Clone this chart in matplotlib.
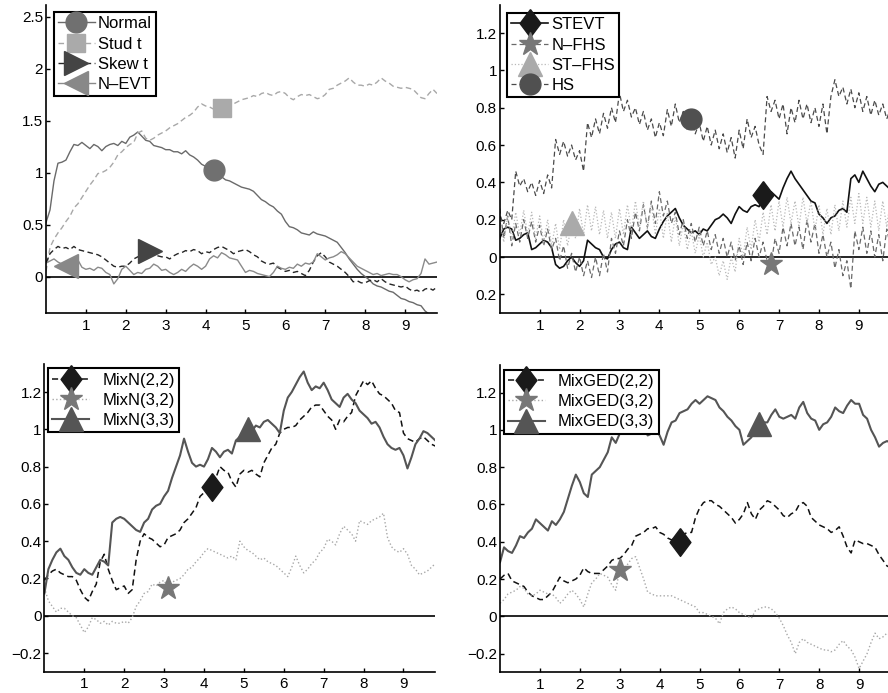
import numpy as np
import matplotlib
matplotlib.use("Agg")
import matplotlib.pyplot as plt

plt.rcParams["font.family"] = ["Liberation Sans", "DejaVu Sans"]

# horizon grid shared by all four panels
t = np.round(np.arange(0, 9.85, 0.1), 1)

# ------------------ panel 1: parametric models ------------------
normal = [0.52, 0.64, 0.92, 1.09, 1.10, 1.12, 1.20, 1.27, 1.26, 1.29,
          1.26, 1.23, 1.27, 1.25, 1.21, 1.25, 1.27, 1.28, 1.26, 1.30,
          1.28, 1.34, 1.36, 1.39, 1.35, 1.31, 1.30, 1.26, 1.25, 1.24,
          1.22, 1.22, 1.20, 1.20, 1.18, 1.21, 1.17, 1.15, 1.12, 1.08,
          1.06, 1.04, 1.02, 0.99, 0.96, 0.93, 0.92, 0.90, 0.88, 0.86,
          0.85, 0.84, 0.82, 0.78, 0.74, 0.72, 0.69, 0.67, 0.63, 0.60,
          0.53, 0.48, 0.47, 0.45, 0.42, 0.41, 0.40, 0.43, 0.41, 0.40,
          0.39, 0.37, 0.35, 0.33, 0.28, 0.23, 0.17, 0.12, 0.07, 0.03,
          0.00, -0.03, -0.07, -0.09, -0.10, -0.12, -0.14, -0.15, -0.18, -0.21,
          -0.22, -0.24, -0.25, -0.27, -0.28, -0.33, -0.36, -0.37, -0.38]
stud_t = [0.05, 0.28, 0.36, 0.42, 0.47, 0.53, 0.58, 0.66, 0.70, 0.76,
          0.82, 0.88, 0.93, 0.99, 1.00, 1.02, 1.05, 1.10, 1.17, 1.20,
          1.24, 1.27, 1.29, 1.38, 1.40, 1.33, 1.31, 1.33, 1.36, 1.38,
          1.40, 1.43, 1.45, 1.47, 1.50, 1.53, 1.55, 1.58, 1.63, 1.66,
          1.64, 1.63, 1.61, 1.62, 1.62, 1.64, 1.67, 1.66, 1.68, 1.70,
          1.71, 1.72, 1.74, 1.73, 1.76, 1.77, 1.75, 1.74, 1.77, 1.78,
          1.76, 1.72, 1.70, 1.73, 1.75, 1.74, 1.75, 1.73, 1.71, 1.72,
          1.75, 1.80, 1.81, 1.84, 1.86, 1.88, 1.91, 1.87, 1.84, 1.84,
          1.83, 1.85, 1.84, 1.87, 1.91, 1.88, 1.86, 1.83, 1.82, 1.81,
          1.82, 1.81, 1.80, 1.76, 1.72, 1.71, 1.76, 1.80, 1.76]
skew_t = [0.13, 0.22, 0.26, 0.29, 0.27, 0.28, 0.26, 0.29, 0.26, 0.25,
          0.24, 0.23, 0.22, 0.21, 0.19, 0.16, 0.13, 0.10, 0.09, 0.10,
          0.10, 0.13, 0.17, 0.19, 0.21, 0.22, 0.25, 0.21, 0.20, 0.19,
          0.19, 0.17, 0.20, 0.22, 0.23, 0.25, 0.24, 0.26, 0.25, 0.22,
          0.24, 0.23, 0.26, 0.28, 0.29, 0.27, 0.25, 0.22, 0.24, 0.25,
          0.26, 0.24, 0.21, 0.19, 0.15, 0.13, 0.12, 0.13, 0.09, 0.07,
          0.05, 0.06, 0.04, 0.05, 0.03, 0.01, 0.06, 0.14, 0.20, 0.23,
          0.19, 0.14, 0.12, 0.10, 0.07, 0.04, 0.00, -0.05, -0.04, -0.06,
          -0.06, -0.04, -0.03, -0.05, -0.02, -0.05, -0.07, -0.08, -0.09, -0.10,
          -0.09, -0.12, -0.14, -0.13, -0.15, -0.12, -0.11, -0.13, -0.10]
n_evt = [0.13, 0.15, 0.17, 0.14, 0.12, 0.10, 0.10, 0.15, 0.16, 0.09,
         0.07, 0.08, 0.06, 0.09, 0.08, 0.04, 0.02, -0.07, -0.02, 0.07,
         0.10, 0.06, 0.02, 0.04, 0.03, 0.07, 0.08, 0.12, 0.10, 0.06,
         0.07, 0.04, 0.02, 0.04, 0.07, 0.05, 0.09, 0.12, 0.10, 0.07,
         0.10, 0.17, 0.20, 0.18, 0.23, 0.21, 0.18, 0.17, 0.16, 0.10,
         0.04, 0.06, 0.05, 0.03, 0.02, 0.01, 0.00, 0.04, 0.10, 0.08,
         0.07, 0.09, 0.08, 0.12, 0.10, 0.13, 0.12, 0.14, 0.22, 0.19,
         0.16, 0.18, 0.19, 0.21, 0.24, 0.22, 0.18, 0.14, 0.10, 0.08,
         0.06, 0.04, 0.02, 0.03, 0.01, 0.02, 0.03, 0.02, 0.02, 0.00,
         -0.03, -0.05, -0.03, -0.02, 0.03, 0.17, 0.12, 0.13, 0.14]

# ------------------ panel 2: EVT / filtered HS ------------------
stevt = [0.10, 0.15, 0.16, 0.15, 0.09, 0.10, 0.12, 0.13, 0.04, 0.05,
         0.07, 0.09, 0.08, 0.05, -0.04, -0.06, -0.05, -0.02, 0.00, -0.03,
         -0.05, -0.02, 0.09, 0.07, 0.05, 0.04, 0.00, -0.01, 0.04, 0.07,
         0.08, 0.05, 0.04, 0.16, 0.13, 0.10, 0.12, 0.14, 0.11, 0.10,
         0.15, 0.19, 0.22, 0.24, 0.26, 0.21, 0.17, 0.15, 0.13, 0.14,
         0.12, 0.15, 0.14, 0.17, 0.20, 0.21, 0.23, 0.21, 0.18, 0.23,
         0.27, 0.25, 0.24, 0.27, 0.28, 0.27, 0.33, 0.32, 0.35, 0.33,
         0.31, 0.37, 0.42, 0.46, 0.42, 0.39, 0.36, 0.33, 0.30, 0.29,
         0.23, 0.21, 0.18, 0.21, 0.22, 0.25, 0.26, 0.24, 0.42, 0.44,
         0.40, 0.46, 0.42, 0.38, 0.35, 0.39, 0.40, 0.38, 0.36]
n_fhs = [0.26, 0.10, 0.22, 0.06, 0.18, 0.08, 0.20, 0.10, 0.19, 0.08,
         0.17, 0.06, 0.15, 0.04, 0.10, -0.02, 0.06, -0.06, 0.02, -0.08,
         0.00, -0.10, -0.02, -0.11, 0.00, -0.10, 0.02, -0.08, 0.10, 0.02,
         0.14, 0.06, 0.20, 0.10, 0.24, 0.14, 0.28, 0.16, 0.30, 0.18,
         0.35, 0.22, 0.30, 0.18, 0.24, 0.12, 0.20, 0.10, 0.18, 0.08,
         0.16, 0.06, 0.14, 0.04, 0.12, 0.02, 0.10, 0.00, 0.08, -0.02,
         0.06, -0.04, 0.08, -0.02, 0.10, 0.00, 0.08, -0.02, -0.04, 0.10,
         0.02, 0.16, 0.06, 0.18, 0.06, 0.16, 0.04, 0.20, 0.08, 0.18,
         0.02, 0.12, 0.00, 0.08, -0.06, 0.04, -0.10, -0.02, -0.17, 0.14,
         0.04, 0.16, 0.02, 0.14, 0.00, 0.12, -0.02, 0.15, 0.05]
st_fhs = [0.20, 0.08, 0.22, 0.10, 0.24, 0.12, 0.25, 0.12, 0.24, 0.10,
          0.22, 0.08, 0.20, 0.06, 0.18, 0.04, 0.20, 0.06, 0.18, 0.10,
          0.26, 0.12, 0.28, 0.14, 0.27, 0.12, 0.25, 0.10, 0.24, 0.10,
          0.26, 0.12, 0.28, 0.14, 0.30, 0.16, 0.30, 0.15, 0.28, 0.12,
          0.26, 0.10, 0.24, 0.08, 0.22, 0.06, 0.18, 0.04, 0.14, 0.02,
          0.12, 0.00, 0.08, -0.04, 0.00, -0.10, -0.02, -0.12, 0.00, -0.08,
          0.10, 0.00, 0.16, 0.04, 0.20, 0.08, 0.24, 0.12, 0.28, 0.14,
          0.30, 0.16, 0.32, 0.18, 0.30, 0.16, 0.32, 0.18, 0.30, 0.14,
          0.28, 0.12, 0.26, 0.12, 0.28, 0.14, 0.30, 0.16, 0.32, 0.18,
          0.34, 0.18, 0.32, 0.16, 0.30, 0.14, 0.30, 0.16, 0.32]
hs = [0.22, 0.18, 0.25, 0.20, 0.46, 0.38, 0.42, 0.35, 0.40, 0.33,
      0.41, 0.34, 0.44, 0.37, 0.63, 0.55, 0.62, 0.54, 0.60, 0.52,
      0.57, 0.46, 0.72, 0.64, 0.74, 0.66, 0.77, 0.69, 0.80, 0.72,
      0.88, 0.78, 0.84, 0.75, 0.80, 0.71, 0.78, 0.68, 0.74, 0.64,
      0.72, 0.65, 0.79, 0.70, 0.82, 0.72, 0.78, 0.68, 0.74, 0.66,
      0.72, 0.62, 0.70, 0.60, 0.68, 0.58, 0.66, 0.56, 0.64, 0.53,
      0.68, 0.58, 0.74, 0.64, 0.70, 0.60, 0.55, 0.86, 0.78, 0.84,
      0.74, 0.82, 0.66, 0.80, 0.72, 0.84, 0.74, 0.82, 0.72, 0.80,
      0.70, 0.82, 0.66, 0.86, 0.95, 0.86, 0.91, 0.82, 0.90, 0.80,
      0.88, 0.78, 0.86, 0.76, 0.84, 0.76, 0.82, 0.74, 0.80]

# ------------------ panel 3: normal mixtures ------------------
mixn_22 = [0.19, 0.22, 0.24, 0.25, 0.23, 0.22, 0.21, 0.21, 0.19, 0.14,
           0.10, 0.08, 0.13, 0.17, 0.29, 0.33, 0.25, 0.19, 0.14, 0.15,
           0.16, 0.12, 0.14, 0.30, 0.40, 0.44, 0.42, 0.41, 0.39, 0.37,
           0.38, 0.42, 0.43, 0.44, 0.46, 0.50, 0.52, 0.55, 0.58, 0.64,
           0.66, 0.68, 0.69, 0.74, 0.80, 0.78, 0.77, 0.72, 0.69, 0.76,
           0.78, 0.77, 0.78, 0.76, 0.745, 0.82, 0.86, 0.90, 0.92, 0.98,
           1.00, 1.01, 1.01, 1.02, 1.05, 1.07, 1.09, 1.12, 1.13, 1.13,
           1.10, 1.07, 1.05, 1.00, 1.05, 1.04, 1.07, 1.09, 1.18, 1.22,
           1.26, 1.24, 1.26, 1.22, 1.19, 1.18, 1.16, 1.14, 1.10, 1.09,
           0.98, 0.95, 0.94, 0.93, 0.95, 0.96, 0.94, 0.92, 0.91]
mixn_32 = [0.15, 0.08, 0.05, 0.02, 0.04, 0.04, 0.02, 0.00, -0.01, -0.05,
           -0.09, -0.06, -0.01, -0.02, -0.04, -0.03, -0.05, -0.03, -0.04, -0.04,
           -0.03, -0.04, -0.01, 0.05, 0.08, 0.12, 0.13, 0.17, 0.16, 0.18,
           0.19, 0.15, 0.18, 0.19, 0.20, 0.22, 0.25, 0.26, 0.29, 0.31,
           0.34, 0.36, 0.35, 0.34, 0.33, 0.32, 0.31, 0.32, 0.30, 0.40,
           0.37, 0.35, 0.34, 0.32, 0.30, 0.31, 0.29, 0.28, 0.27, 0.25,
           0.23, 0.21, 0.26, 0.32, 0.27, 0.23, 0.25, 0.28, 0.30, 0.34,
           0.36, 0.41, 0.40, 0.38, 0.44, 0.48, 0.46, 0.44, 0.40, 0.51,
           0.50, 0.49, 0.51, 0.52, 0.53, 0.55, 0.42, 0.37, 0.35, 0.34,
           0.36, 0.33, 0.27, 0.25, 0.22, 0.23, 0.24, 0.26, 0.28]
mixn_33 = [0.12, 0.25, 0.30, 0.34, 0.36, 0.32, 0.30, 0.26, 0.23, 0.22,
           0.25, 0.23, 0.22, 0.26, 0.30, 0.29, 0.27, 0.50, 0.52, 0.53,
           0.52, 0.50, 0.48, 0.46, 0.45, 0.50, 0.52, 0.57, 0.59, 0.60,
           0.64, 0.67, 0.74, 0.80, 0.86, 0.95, 0.88, 0.82, 0.80, 0.81,
           0.80, 0.84, 0.90, 0.88, 0.85, 0.88, 0.89, 0.87, 0.94, 0.96,
           0.98, 1.00, 0.99, 1.02, 1.01, 1.04, 1.05, 1.03, 1.01, 0.98,
           1.10, 1.17, 1.20, 1.24, 1.28, 1.31, 1.25, 1.21, 1.23, 1.22,
           1.25, 1.21, 1.16, 1.14, 1.12, 1.17, 1.19, 1.16, 1.14, 1.10,
           1.08, 1.06, 1.03, 1.04, 1.01, 0.96, 0.92, 0.90, 0.89, 0.90,
           0.86, 0.79, 0.85, 0.92, 0.95, 0.99, 0.98, 0.96, 0.94]

# ------------------ panel 4: GED mixtures ------------------
mixged_22 = [0.20, 0.22, 0.23, 0.19, 0.18, 0.17, 0.16, 0.13, 0.11, 0.10,
             0.09, 0.09, 0.11, 0.13, 0.17, 0.21, 0.19, 0.18, 0.19, 0.20,
             0.22, 0.26, 0.24, 0.23, 0.23, 0.23, 0.25, 0.27, 0.30, 0.31,
             0.31, 0.33, 0.36, 0.38, 0.43, 0.44, 0.45, 0.47, 0.47, 0.48,
             0.45, 0.44, 0.42, 0.41, 0.42, 0.40, 0.44, 0.45, 0.45, 0.53,
             0.58, 0.61, 0.62, 0.62, 0.60, 0.59, 0.57, 0.55, 0.53, 0.50,
             0.52, 0.55, 0.61, 0.55, 0.52, 0.57, 0.59, 0.62, 0.61, 0.59,
             0.57, 0.54, 0.53, 0.55, 0.56, 0.60, 0.61, 0.59, 0.53, 0.51,
             0.49, 0.48, 0.47, 0.45, 0.46, 0.48, 0.43, 0.37, 0.34, 0.41,
             0.40, 0.39, 0.39, 0.38, 0.37, 0.33, 0.30, 0.27, 0.26]
mixged_32 = [0.07, 0.09, 0.12, 0.13, 0.14, 0.16, 0.15, 0.12, 0.11, 0.12,
             0.14, 0.13, 0.12, 0.12, 0.10, 0.07, 0.09, 0.12, 0.14, 0.12,
             0.09, 0.05, 0.12, 0.18, 0.20, 0.23, 0.22, 0.21, 0.17, 0.14,
             0.25, 0.23, 0.28, 0.31, 0.32, 0.26, 0.20, 0.13, 0.12, 0.11,
             0.11, 0.11, 0.11, 0.11, 0.10, 0.09, 0.08, 0.07, 0.06, 0.05,
             0.02, 0.02, 0.01, 0.00, -0.01, -0.04, 0.02, 0.04, 0.05, 0.04,
             0.02, 0.01, 0.00, -0.01, 0.03, 0.04, 0.05, 0.05, 0.04, 0.02,
             -0.01, -0.05, -0.10, -0.14, -0.20, -0.14, -0.12, -0.14, -0.15, -0.16,
             -0.17, -0.18, -0.18, -0.19, -0.18, -0.15, -0.13, -0.16, -0.18, -0.22,
             -0.28, -0.24, -0.20, -0.14, -0.09, -0.12, -0.11, -0.09, -0.10]
mixged_33 = [0.29, 0.37, 0.35, 0.34, 0.38, 0.43, 0.42, 0.45, 0.47, 0.52,
             0.50, 0.48, 0.46, 0.51, 0.49, 0.52, 0.56, 0.63, 0.70, 0.76,
             0.72, 0.66, 0.64, 0.76, 0.78, 0.80, 0.84, 0.88, 0.96, 0.93,
             0.98, 1.02, 1.04, 1.01, 1.00, 1.03, 1.02, 0.97, 0.98, 1.00,
             0.97, 0.92, 0.99, 1.04, 1.05, 1.09, 1.10, 1.11, 1.14, 1.16,
             1.14, 1.16, 1.18, 1.17, 1.16, 1.12, 1.10, 1.07, 1.05, 1.02,
             1.00, 0.92, 0.94, 0.96, 1.01, 1.03, 1.04, 1.04, 1.08, 1.11,
             1.07, 1.06, 1.07, 1.08, 1.06, 1.12, 1.15, 1.09, 1.06, 1.05,
             1.00, 1.03, 1.04, 1.07, 1.12, 1.10, 1.09, 1.13, 1.16, 1.14,
             1.14, 1.08, 1.06, 1.00, 0.96, 0.91, 0.93, 0.94, 0.93]

x_ticks = [1, 2, 3, 4, 5, 6, 7, 8, 9]
y_ticks_top_left = [0, 0.5, 1, 1.5, 2, 2.5]
y_labels_top_left = ["0", "0.5", "1", "1.5", "2", "2.5"]
y_ticks_other = [-0.2, 0, 0.2, 0.4, 0.6, 0.8, 1, 1.2]
y_labels_top_right = ["0.2", "0", "0.2", "0.4", "0.6", "0.8", "1", "1.2"]
y_labels_bottom = ["\u22120.2", "0", "0.2", "0.4", "0.6", "0.8", "1", "1.2"]

# tall diamond, a bit narrower than it is high
diamond = [(0, 1), (0.75, 0), (0, -1), (-0.75, 0), (0, 1)]

# (label, values, line colour, linestyle, lw, marker, marker colour, size, marker index)
panels = [
    dict(pos=[0.0518, 0.5483, 0.4403, 0.4444], ylim=(-0.35, 2.61),
         yticks=y_ticks_top_left, ylabels=y_labels_top_left,
         anchor=(0.02, 0.977), textpad=0.2,
         series=[("Normal", normal, "#6a6a6a", "-", 1.0, "o", "#707070", 15, 42),
                 ("Stud t", stud_t, "#a8a8a8", "--", 1.0, "s", "#aaaaaa", 13, 44),
                 ("Skew t", skew_t, "#262626", "--", 1.0, ">", "#444444", 17, 26),
                 ("N\u2013EVT", n_evt, "#8a8a8a", "-", 1.0, "<", "#888888", 17, 5)]),
    dict(pos=[0.5628, 0.5483, 0.4403, 0.4444], ylim=(-0.3, 1.35),
         yticks=y_ticks_other, ylabels=y_labels_top_right,
         anchor=(0.019, 0.974), textpad=0.2,
         series=[("STEVT", stevt, "#111111", "-", 1.2, diamond, "#1a1a1a", 20, 66),
                 ("N\u2013FHS", n_fhs, "#6a6a6a", "--", 0.9, "*", "#777777", 17, 68),
                 ("ST\u2013FHS", st_fhs, "#b8b8b8", ":", 0.9, "^", "#aaaaaa", 17, 18),
                 ("HS", hs, "#4a4a4a", "--", 0.9, "o", "#505050", 15, 48)]),
    dict(pos=[0.05, 0.0307, 0.4403, 0.444], ylim=(-0.3, 1.35),
         yticks=y_ticks_other, ylabels=y_labels_bottom,
         anchor=(0.01, 0.986), textpad=0.8,
         series=[("MixN(2,2)", mixn_22, "#111111", "--", 1.1, diamond, "#1a1a1a", 20, 42),
                 ("MixN(3,2)", mixn_32, "#a8a8a8", ":", 1.0, "*", "#777777", 17, 31),
                 ("MixN(3,3)", mixn_33, "#555555", "-", 1.5, "^", "#555555", 17, 51)]),
    dict(pos=[0.5631, 0.0299, 0.4403, 0.444], ylim=(-0.3, 1.35),
         yticks=y_ticks_other, ylabels=y_labels_bottom,
         anchor=(0.01, 0.984), textpad=0.8,
         series=[("MixGED(2,2)", mixged_22, "#111111", "--", 1.1, diamond, "#1a1a1a", 20, 45),
                 ("MixGED(3,2)", mixged_32, "#a8a8a8", ":", 1.0, "*", "#777777", 17, 30),
                 ("MixGED(3,3)", mixged_33, "#555555", "-", 1.5, "^", "#555555", 17, 65)]),
]

fig = plt.figure(figsize=(8.88, 6.93), dpi=100)

for p in panels:
    ax = fig.add_axes(p["pos"])
    handles, labels = [], []
    for label, vals, col, ls, lw, mk, mcol, ms, idx in p["series"]:
        y = np.array(vals)
        if ls == "--":
            line, = ax.plot(t, y, color=col, lw=lw, linestyle=(0, (4, 2.5)))
        else:
            line, = ax.plot(t, y, color=col, lw=lw, linestyle=ls)
        pt, = ax.plot(t[idx], y[idx], linestyle="none", marker=mk, ms=ms,
                      color=mcol, mec=mcol, zorder=5)
        handles.append((line, pt))
        labels.append(label)
    ax.axhline(0, color="black", lw=1.2, zorder=1)

    ax.set_xlim(0, 9.8)
    ax.set_ylim(*p["ylim"])
    ax.set_xticks(x_ticks)
    ax.set_xticklabels([str(v) for v in x_ticks])
    ax.set_yticks(p["yticks"])
    ax.set_yticklabels(p["ylabels"])
    ax.tick_params(direction="in", length=3, width=1, labelsize=11)
    ax.tick_params(axis="y", pad=2)
    ax.tick_params(axis="x", pad=4)
    for side in ["top", "right"]:
        ax.spines[side].set_visible(False)
    for side in ["left", "bottom"]:
        ax.spines[side].set_linewidth(1.2)

    leg = ax.legend(handles, labels, loc="upper left", bbox_to_anchor=p["anchor"],
                    borderaxespad=0, fontsize=12, fancybox=False, framealpha=1,
                    edgecolor="black", labelspacing=0.32, handlelength=2.2,
                    handletextpad=p["textpad"], borderpad=0.25)
    leg.get_frame().set_linewidth(1.5)

plt.savefig("out.png", dpi=100)
